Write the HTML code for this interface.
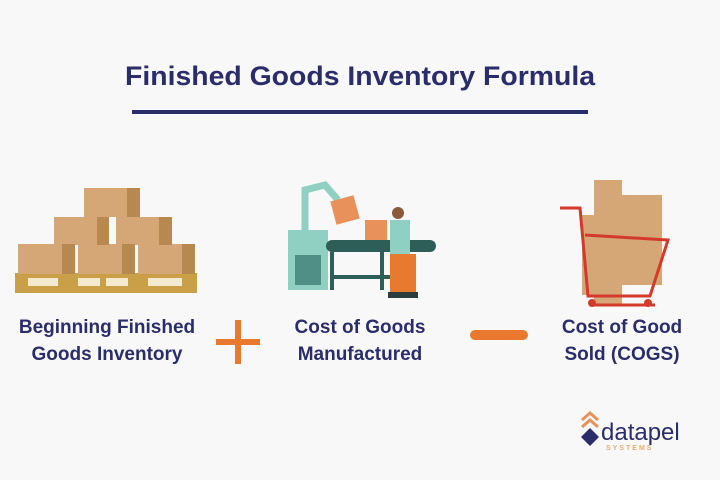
<!DOCTYPE html>
<html><head><style>
body{margin:0;background:#f8f8f8;}
svg{display:block}
text{font-family:"Liberation Sans",sans-serif;font-weight:bold;}
</style></head><body>
<svg width="720" height="480" viewBox="0 0 720 480">
<rect width="720" height="480" fill="#f8f8f8"/>
<text x="360" y="85" font-size="27" fill="#2b2d6b" text-anchor="middle" textLength="470" lengthAdjust="spacingAndGlyphs">Finished Goods Inventory Formula</text>
<rect x="132" y="110" width="456" height="4" fill="#2b2d6b"/>
<!-- pallet -->
<rect x="15" y="273" width="182" height="20" fill="#c9a047"/>
<rect x="28" y="278" width="30" height="8" fill="#f3ead0"/><rect x="78" y="278" width="22" height="8" fill="#f3ead0"/><rect x="106" y="278" width="22" height="8" fill="#f3ead0"/><rect x="148" y="278" width="34" height="8" fill="#f3ead0"/>
<g fill="#d5a676">
<rect x="18" y="244" width="57" height="30"/><rect x="78" y="244" width="57" height="30"/><rect x="138" y="244" width="57" height="30"/>
<rect x="54" y="217" width="55" height="28"/><rect x="116" y="217" width="56" height="28"/>
<rect x="84" y="188" width="56" height="29"/>
</g>
<g fill="#b78850">
<rect x="62" y="244" width="13" height="30"/><rect x="122" y="244" width="13" height="30"/><rect x="182" y="244" width="13" height="30"/>
<rect x="97" y="217" width="12" height="28"/><rect x="159" y="217" width="13" height="28"/><rect x="127" y="188" width="13" height="29"/>
</g>
<!-- factory -->
<rect x="288" y="230" width="40" height="60" fill="#8fd0c2"/>
<rect x="295" y="255" width="26" height="30" fill="#4f8f86"/>
<path d="M305 232 L305 190 L325 185 L338 200" stroke="#8fd0c2" stroke-width="7" fill="none"/>
<rect x="333" y="198" width="24" height="24" fill="#e8915a" transform="rotate(-15 345 210)"/>
<rect x="326" y="240" width="110" height="12" rx="6" fill="#2e5e58"/>
<rect x="330" y="252" width="4" height="38" fill="#2e5e58"/><rect x="380" y="252" width="4" height="38" fill="#2e5e58"/>
<rect x="330" y="275" width="80" height="4" fill="#2e5e58"/>
<rect x="365" y="220" width="22" height="20" fill="#e8915a"/>
<circle cx="398" cy="213" r="6" fill="#8a5a3a"/>
<rect x="390" y="220" width="20" height="35" fill="#8fd0c2"/>
<rect x="390" y="254" width="26" height="40" fill="#e87a30"/>
<rect x="388" y="292" width="30" height="6" fill="#2b3d3d"/>
<!-- cart -->
<g fill="#d5a676">
<rect x="594" y="180" width="28" height="125"/><rect x="622" y="195" width="40" height="90"/><rect x="582" y="215" width="20" height="80"/>
</g>
<path d="M560 208 L580 208 L588 296 L650 296 L668 240 L585 235" stroke="#d33a2c" stroke-width="3" fill="none"/>
<path d="M590 305 L655 305" stroke="#d33a2c" stroke-width="3"/>
<circle cx="592" cy="303" r="4" fill="#d33a2c"/><circle cx="648" cy="303" r="4" fill="#d33a2c"/>
<!-- labels -->
<g font-size="19" fill="#2b2d6b" text-anchor="middle">
<text x="107" y="333">Beginning Finished</text><text x="107" y="360">Goods Inventory</text>
<text x="360" y="333">Cost of Goods</text><text x="360" y="360">Manufactured</text>
<text x="622" y="333">Cost of Good</text><text x="622" y="360">Sold (COGS)</text>
</g>
<rect x="216" y="339" width="44" height="6" fill="#e8792e"/>
<rect x="235" y="320" width="6" height="44" fill="#e8792e"/>
<rect x="470" y="330" width="58" height="10" rx="5" fill="#e8792e"/>
<!-- logo -->
<path d="M582 420 L590 413 L598 420" stroke="#e8915a" stroke-width="3" fill="none"/>
<path d="M582 427 L590 420 L598 427" stroke="#e8915a" stroke-width="3" fill="none"/>
<path d="M590 428 L599 437 L590 446 L581 437Z" fill="#2b2d6b"/>
<text x="601" y="440" font-size="24" fill="#2b2d6b" style="font-weight:normal">datapel</text>
<text x="606" y="450" font-size="7" fill="#e0b070" letter-spacing="2">SYSTEMS</text>
</svg>
</body></html>
